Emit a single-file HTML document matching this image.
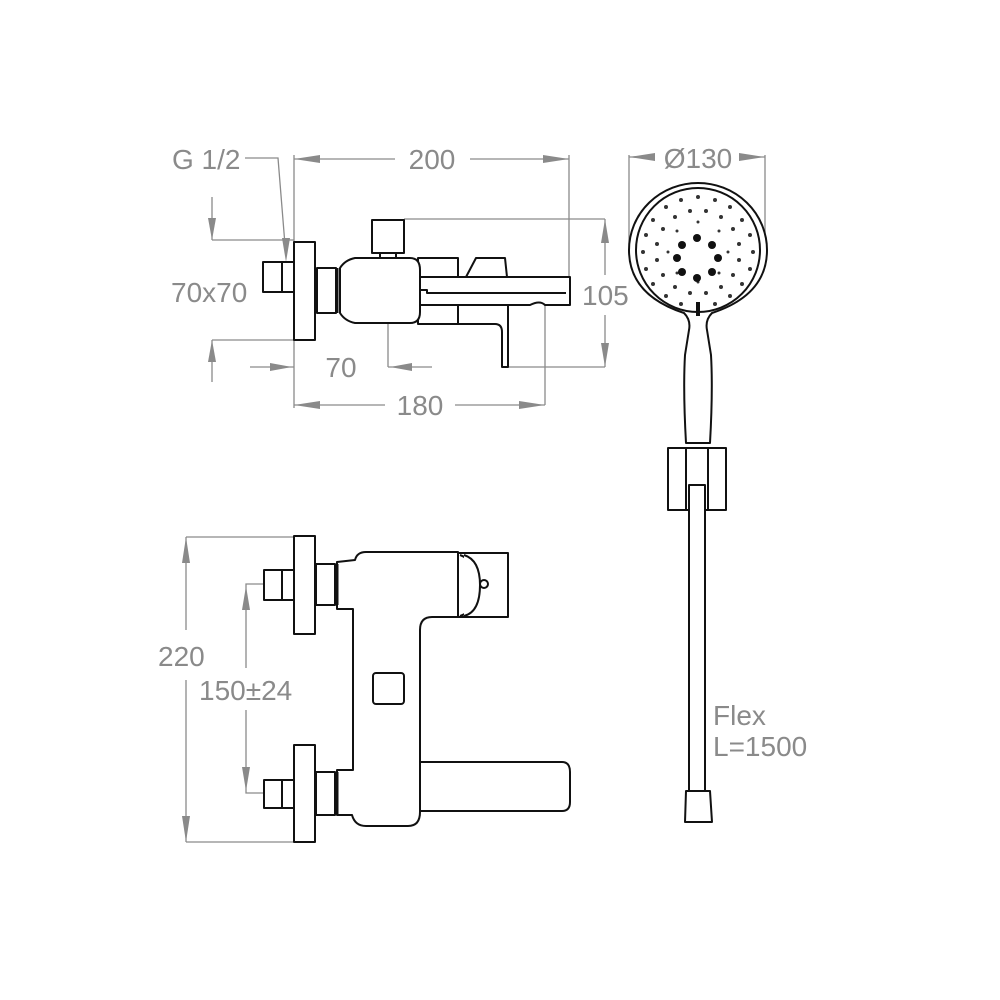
<!DOCTYPE html>
<html><head><meta charset="utf-8"><style>
html,body{margin:0;padding:0;background:#fff;}
svg{display:block}
text{font-family:"Liberation Sans",sans-serif;fill:#8a8a8a;font-size:28px}
.o{fill:#fff;stroke:#111;stroke-width:2;stroke-linejoin:round}
.d{stroke:#8a8a8a;stroke-width:1.3;fill:none}
.a{fill:#8a8a8a}
.n{fill:#333}
</style></head><body>
<svg width="1000" height="1000" viewBox="0 0 1000 1000">
<line class="d" x1="294" y1="155" x2="294" y2="408"/>
<line class="d" x1="569" y1="155" x2="569" y2="297"/>
<line class="d" x1="294" y1="159" x2="395" y2="159"/>
<line class="d" x1="470" y1="159" x2="569" y2="159"/>
<polygon class="a" points="294,159 320,155 320,163"/>
<polygon class="a" points="569,159 543,155 543,163"/>
<text x="432" y="169" text-anchor="middle">200</text>
<text x="172" y="169">G 1/2</text>
<polyline class="d" points="245,158 278,158 285,245"/>
<polygon class="a" points="286,262 282,238 290,238"/>
<line class="d" x1="212" y1="197" x2="212" y2="240"/>
<polygon class="a" points="212,240 208,218 216,218"/>
<line class="d" x1="212" y1="240" x2="294" y2="240"/>
<line class="d" x1="212" y1="340" x2="294" y2="340"/>
<line class="d" x1="212" y1="340" x2="212" y2="382"/>
<polygon class="a" points="212,340 208,362 216,362"/>
<text x="171" y="302">70x70</text>
<line class="d" x1="250" y1="367" x2="294" y2="367"/>
<polygon class="a" points="292,367 270,363 270,371"/>
<line class="d" x1="388" y1="253" x2="388" y2="367"/>
<line class="d" x1="388" y1="367" x2="432" y2="367"/>
<polygon class="a" points="390,367 412,363 412,371"/>
<text x="341" y="377" text-anchor="middle">70</text>
<line class="d" x1="294" y1="405" x2="385" y2="405"/>
<line class="d" x1="455" y1="405" x2="545" y2="405"/>
<polygon class="a" points="294,405 320,401 320,409"/>
<polygon class="a" points="545,405 519,401 519,409"/>
<line class="d" x1="545" y1="303" x2="545" y2="405"/>
<text x="420" y="415" text-anchor="middle">180</text>
<line class="d" x1="404" y1="219" x2="605" y2="219"/>
<line class="d" x1="508" y1="367" x2="605" y2="367"/>
<line class="d" x1="605" y1="219" x2="605" y2="275"/>
<line class="d" x1="605" y1="315" x2="605" y2="367"/>
<polygon class="a" points="605,219 601,243 609,243"/>
<polygon class="a" points="605,367 601,343 609,343"/>
<text x="582" y="305">105</text>
<rect class="o" x="263" y="262" width="31" height="30"/>
<line class="o" x1="282" y1="262" x2="282" y2="292"/>
<rect class="o" x="294" y="242" width="21" height="98"/>
<rect class="o" x="317" y="268" width="19" height="45"/>
<line stroke="#111" stroke-width="3" x1="337" y1="268" x2="337" y2="313"/>
<rect class="o" x="418" y="258" width="40" height="66"/>
<path class="o" d="M458,324 L495,324 Q502,324 502,332 L502,367 L508,367 L508,277 L458,277 Z"/>
<path class="o" d="M466,277 L476,258 L505,258 L507,277 Z"/>
<path class="o" d="M340,268 Q345,260 355,258 L410,258 Q420,258 420,270 L420,312 Q420,323 410,323 L355,323 Q345,321 340,313 Z"/>
<rect class="o" x="372" y="220" width="32" height="33"/>
<rect class="o" x="380" y="253" width="16" height="5"/>
<path class="o" d="M420,277 L570,277 L570,305 L545,305 Q540,300 530,305 L420,305 Z"/>
<path class="o" d="M420,290 L427,290 L427,293 L566,293"/>
<line class="d" x1="629" y1="155" x2="629" y2="252"/>
<line class="d" x1="765" y1="155" x2="765" y2="252"/>
<line class="d" x1="629" y1="157" x2="655" y2="157"/>
<line class="d" x1="740" y1="157" x2="765" y2="157"/>
<polygon class="a" points="629,157 655,153 655,161"/>
<polygon class="a" points="765,157 739,153 739,161"/>
<text x="698" y="168" text-anchor="middle">Ø130</text>
<path class="o" d="M684,313 Q629,295 629,250 A69,67 0 1 1 767,250 Q767,295 712,313 Q705,320 707,330 L711,355 Q713,390 710,443 L686,443 Q683,390 685,355 L689,330 Q691,320 684,313 Z"/>
<circle class="o" cx="698" cy="250" r="62"/>
<g class="n">
<circle cx="753" cy="252" r="2"/><circle cx="750" cy="269" r="2"/><circle cx="742" cy="284" r="2"/><circle cx="730" cy="296" r="2"/><circle cx="715" cy="304" r="2"/><circle cx="681" cy="304" r="2"/><circle cx="666" cy="296" r="2"/><circle cx="653" cy="284" r="2"/><circle cx="646" cy="269" r="2"/><circle cx="643" cy="252" r="2"/><circle cx="646" cy="235" r="2"/><circle cx="653" cy="220" r="2"/><circle cx="666" cy="207" r="2"/><circle cx="681" cy="200" r="2"/><circle cx="698" cy="197" r="2"/><circle cx="715" cy="200" r="2"/><circle cx="730" cy="207" r="2"/><circle cx="742" cy="220" r="2"/><circle cx="750" cy="235" r="2"/>
<circle cx="739" cy="260" r="2"/><circle cx="733" cy="275" r="2"/><circle cx="721" cy="287" r="2"/><circle cx="706" cy="293" r="2"/><circle cx="690" cy="293" r="2"/><circle cx="675" cy="287" r="2"/><circle cx="663" cy="275" r="2"/><circle cx="657" cy="260" r="2"/><circle cx="657" cy="244" r="2"/><circle cx="663" cy="229" r="2"/><circle cx="675" cy="217" r="2"/><circle cx="690" cy="211" r="2"/><circle cx="706" cy="211" r="2"/><circle cx="721" cy="217" r="2"/><circle cx="733" cy="229" r="2"/><circle cx="739" cy="244" r="2"/>
<circle cx="728" cy="252" r="1.5"/><circle cx="719" cy="273" r="1.5"/><circle cx="698" cy="282" r="1.5"/><circle cx="677" cy="273" r="1.5"/><circle cx="668" cy="252" r="1.5"/><circle cx="677" cy="231" r="1.5"/><circle cx="698" cy="222" r="1.5"/><circle cx="719" cy="231" r="1.5"/>
</g>
<g fill="#111">
<circle cx="697" cy="238" r="4"/><circle cx="682" cy="245" r="4"/><circle cx="712" cy="245" r="4"/><circle cx="677" cy="258" r="4"/><circle cx="718" cy="258" r="4"/><circle cx="682" cy="272" r="4"/><circle cx="712" cy="272" r="4"/><circle cx="697" cy="278" r="4"/>
<rect x="696" y="302" width="4" height="14"/>
</g>
<rect class="o" x="668" y="448" width="58" height="62"/>
<rect class="o" x="686" y="448" width="22" height="62"/>
<rect class="o" x="689" y="485" width="16" height="306"/>
<path class="o" d="M686,791 L710,791 L712,822 L685,822 Z"/>
<text x="713" y="725">Flex</text>
<text x="713" y="756">L=1500</text>
<line class="d" x1="186" y1="537" x2="315" y2="537"/>
<line class="d" x1="186" y1="842" x2="315" y2="842"/>
<line class="d" x1="186" y1="537" x2="186" y2="630"/>
<line class="d" x1="186" y1="680" x2="186" y2="842"/>
<polygon class="a" points="186,537 182,563 190,563"/>
<polygon class="a" points="186,842 182,816 190,816"/>
<text x="158" y="666">220</text>
<polyline class="d" points="263,584 246,584 246,668"/>
<polyline class="d" points="263,793 246,793 246,710"/>
<polygon class="a" points="246,586 242,610 250,610"/>
<polygon class="a" points="246,791 242,767 250,767"/>
<text x="199" y="700">150±24</text>
<rect class="o" x="264" y="570" width="30" height="30"/>
<line class="o" x1="282" y1="570" x2="282" y2="600"/>
<rect class="o" x="294" y="536" width="21" height="98"/>
<rect class="o" x="316" y="564" width="19" height="41"/>
<rect class="o" x="264" y="780" width="30" height="28"/>
<line class="o" x1="282" y1="780" x2="282" y2="808"/>
<rect class="o" x="294" y="745" width="21" height="97"/>
<rect class="o" x="316" y="772" width="19" height="43"/>
<path class="o" d="M337,562 L355,560 Q357,552 366,552 L458,552 L458,617 L432,617 Q420,617 420,630 L420,812 Q420,826 408,826 L366,826 Q355,826 352,815 L337,815 L337,770 L353,770 L353,609 L337,609 Z"/>
<line stroke="#111" stroke-width="3" x1="337" y1="564" x2="337" y2="605"/>
<line stroke="#111" stroke-width="3" x1="337" y1="772" x2="337" y2="815"/>
<rect class="o" x="373" y="673" width="31" height="31" rx="3"/>
<rect class="o" x="458" y="553" width="50" height="64"/>
<path class="o" d="M460,555 Q475,560 475,585 Q475,612 460,616"/>
<path class="o" d="M464,555 Q480,560 480,585 Q480,612 464,616"/>
<circle class="o" cx="484" cy="584" r="4"/>
<path class="o" d="M420,762 L562,762 Q570,762 570,772 L570,802 Q570,811 562,811 L420,811 Z"/>
</svg>
</body></html>
